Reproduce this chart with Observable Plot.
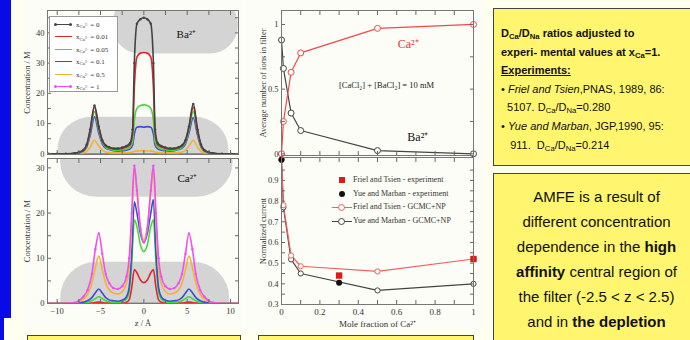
<!DOCTYPE html>
<html><head><meta charset="utf-8">
<script src="https://cdn.jsdelivr.net/npm/d3@7"></script>
<script src="https://cdn.jsdelivr.net/npm/@observablehq/plot@0.6"></script>
<style>
body{margin:0;width:690px;height:340px;overflow:hidden;background:#fffff0;position:relative;font-family:"Liberation Serif",serif}
.abs{position:absolute}
.panel{position:absolute;background:#fdfdf7}
.ybox{position:absolute;background:#fff56e;border:1px solid #444;box-sizing:border-box;font-family:"Liberation Sans",Arial,sans-serif;color:#111}
.leg{position:absolute;font-family:"Liberation Serif",serif;color:#333}
.row{position:absolute;left:0;white-space:nowrap;line-height:10px}
sub{font-size:70%;vertical-align:-0.25em;line-height:0}
sup{font-size:70%;vertical-align:0.45em;line-height:0}
</style></head><body>
<div class="abs" style="left:0;top:0;width:11px;height:318px;background:#0a0ae8"></div>
<div class="abs" style="left:0;top:318px;width:4px;height:22px;background:#0a0ae8"></div>
<div class="panel" style="left:24px;top:0;width:219px;height:330px"></div>
<div class="panel" style="left:245px;top:0;width:238px;height:330px"></div>
<div id="pA" class="abs" style="left:0;top:0"></div>
<div id="pB" class="abs" style="left:0;top:156px"></div>
<div id="pC" class="abs" style="left:245px;top:0"></div>
<div id="pD" class="abs" style="left:245px;top:156px"></div>

<div class="ybox" style="left:27px;top:335px;width:214px;height:20px"></div>
<div class="ybox" style="left:258px;top:335px;width:216px;height:20px"></div>

<div class="ybox" style="left:493px;top:8px;width:210px;height:158px;font-size:11px;line-height:18.6px;padding:15px 0 0 7px">
<div style="font-weight:bold">D<sub>Ca</sub>/D<sub>Na</sub> ratios adjusted to</div>
<div style="font-weight:bold">experi- mental values at x<sub>Ca</sub>=1.</div>
<div style="font-weight:bold;text-decoration:underline">Experiments:</div>
<div style="white-space:nowrap">• <i>Friel and Tsien</i>,PNAS, 1989, 86:</div>
<div style="white-space:nowrap">&nbsp;&nbsp;5107. D<sub>Ca</sub>/D<sub>Na</sub>=0.280</div>
<div style="white-space:nowrap">• <i>Yue and Marban</i>, JGP,1990, 95:</div>
<div style="white-space:nowrap">&nbsp;&nbsp;&nbsp;911.&nbsp; D<sub>Ca</sub>/D<sub>Na</sub>=0.214</div>
</div>

<div class="ybox" style="left:493px;top:173px;width:207px;height:190px;font-size:15px;line-height:25px;padding-top:10px;text-align:center">
<div>AMFE is a result of</div>
<div>different concentration</div>
<div>dependence in the <b>high</b></div>
<div><b>affinity</b> central region of</div>
<div>the filter (-2.5 &lt; z &lt; 2.5)</div>
<div>and in <b>the depletion</b></div>
</div>

<div id="legA" class="leg" style="left:49px;top:16px;width:69px;height:76px;background:#fff;border:1px solid #999;box-sizing:border-box;font-size:7px"></div>
<div id="legD" class="leg" style="left:328px;top:174px;width:140px;height:54px;font-size:8px"></div>

<script>
// ---------- Data ----------
const seriesLabels = ["0", "0.01", "0.05", "0.1", "0.5", "1"];
const seriesColors = ["#444444", "#e3262b", "#3ddc3d", "#3a4fd0", "#f2b233", "#f050f0"];

// Ba2+ concentration profiles (M) vs z (Å)
const zBa = [-11,-10,-9,-8,-7.5,-7,-6.6,-6.2,-5.7,-5.2,-4.8,-4.4,-4,-3.5,-3,-2.5,-2,-1.6,-1.3,-1.1,-0.8,-0.4,0,
             0.4,0.8,1.1,1.3,1.6,2,2.5,3,3.5,4,4.4,4.8,5.2,5.7,6.2,6.6,7,7.5,8,9,10,11];
const baX0   = [0,0,0,0.2,0.5,1.2,3,8,16,9,4.5,2.8,2.2,1.8,1.8,2.1,2.6,3.5,8,30,43,44.5,45,
                44.5,43,30,8,3.5,2.6,2.1,1.8,1.8,2.2,2.8,4.5,9,16.5,8,3,1.2,0.5,0.2,0,0,0];
const baX001 = [0,0,0,0.2,0.5,1.1,2.8,7.5,15.5,8.7,4.3,2.6,2,1.6,1.5,1.8,2.2,3,6.5,22,32,33.3,33.5,
                33.3,32,22,6.5,3,2.2,1.8,1.5,1.6,2,2.6,4.3,8.7,15.5,7.5,2.8,1.1,0.5,0.2,0,0,0];
const baX005 = [0,0,0,0.15,0.4,1,2.5,7,14,7.8,3.8,2.2,1.6,1.2,1.1,1.3,1.6,2.2,4,11,15,16,16.2,
                16,15,11,4,2.2,1.6,1.3,1.1,1.2,1.6,2.2,3.8,7.8,14,7,2.5,1,0.4,0.15,0,0,0];
const baX01  = [0,0,0,0.1,0.3,0.9,2.2,6,12.3,6.8,3.3,1.9,1.4,1,0.9,1,1.2,1.6,2.8,6.5,8.8,9,8.8,
                9,8.8,6.5,2.8,1.6,1.2,1,0.9,1,1.4,1.9,3.3,6.8,12,6,2.2,0.9,0.3,0.1,0,0,0];
const baX05  = [0,0,0,0,0.1,0.3,0.8,2.2,4.5,2.5,1.2,0.6,0.4,0.3,0.3,0.3,0.35,0.45,0.6,0.8,0.9,1,1,
                1,0.9,0.8,0.6,0.45,0.35,0.3,0.3,0.3,0.4,0.6,1.2,2.5,4.5,2.2,0.8,0.3,0.1,0,0,0,0];
const baX1   = [0,0,0,0,0,0,0,0,0,0,0,0,0,0,0,0,0,0,0,0,0,0,0,
                0,0,0,0,0,0,0,0,0,0,0,0,0,0,0,0,0,0,0,0,0,0];

// Ca2+ concentration profiles (M) vs z (Å)
const zCa = [-11,-10,-9,-8,-7.5,-7,-6.5,-6,-5.6,-5.2,-4.8,-4.4,-4,-3.5,-3,-2.5,-2,-1.7,-1.4,-1.1,-0.8,-0.4,0,
             0.4,0.8,1.1,1.4,1.7,2,2.5,3,3.5,4,4.4,4.8,5.2,5.6,6,6.5,7,7.5,8,9,10,11];
const caX0   = [0,0,0,0,0,0,0,0,0,0,0,0,0,0,0,0,0,0,0,0,0,0,0,
                0,0,0,0,0,0,0,0,0,0,0,0,0,0,0,0,0,0,0,0,0,0];
const caX001 = [0,0,0,0,0,0,0,0.1,0.2,0.3,0.2,0.1,0.1,0.1,0.1,0.1,0.3,0.8,3.5,7.5,6.8,5.2,4.6,
                5.2,6.8,7.5,3.5,0.8,0.3,0.1,0.1,0.1,0.1,0.1,0.2,0.3,0.2,0.1,0,0,0,0,0,0,0];
const caX005 = [0,0,0,0,0,0.1,0.3,0.6,1.1,1.5,1.1,0.6,0.4,0.3,0.25,0.4,1,2.5,9,18.5,17,13,11.5,
                13,17,18.5,9,2.5,1,0.4,0.25,0.3,0.4,0.6,1.1,1.5,1.1,0.6,0.3,0.1,0,0,0,0,0];
const caX01  = [0,0,0,0,0.1,0.3,0.6,1.3,2.4,3.2,2.3,1.3,0.8,0.6,0.5,0.7,1.5,3.5,11,22.5,20,15.5,13.5,
                15.5,20,23,11,3.5,1.5,0.7,0.5,0.6,0.8,1.3,2.3,3.2,2.4,1.3,0.6,0.3,0.1,0,0,0,0];
const caX05  = [0,0,0,0.1,0.4,1,2,4.5,8,10.5,7.5,4.5,3,2.3,2.1,2.6,4.5,8,18,30,25,17,14,
                17,25,30,18,8,4.5,2.6,2.1,2.3,3,4.5,7.5,10.5,8,4.5,2,1,0.4,0.1,0,0,0];
const caX1   = [0,0,0,0.2,0.6,1.5,3,6.5,12,15.5,11,6.5,4.5,3.4,3.2,3.8,6,10,20,30.5,25,16.5,13.5,
                16.5,25,30.5,20,10,6,3.8,3.2,3.4,4.5,6.5,11,15.5,12,6.5,3,1.5,0.6,0.2,0,0,0];

// shaded regions (data units)
const baShadeTop = {x1: -3.6, x2: 10.9, y1: 33, y2: 52};
const baShadeBot = {x1: -9.9, x2: 9.8, y1: -9, y2: 12.1};
const caShadeTop = {x1: -9.6, x2: 10.3, y1: 23.5, y2: 39};
const caShadeBot = {x1: -9.6, x2: 9.9, y1: -7, y2: 9.1};

// Average number of ions in filter vs mole fraction of Ca2+
const moleFrac = [0, 0.01, 0.05, 0.1, 0.5, 1];
const avgCa = [0, 0.25, 0.63, 0.78, 0.97, 1.0];
const avgBa = [0.88, 0.66, 0.315, 0.18, 0.025, 0.0];

// Normalized current
const currFriel = [1.0, 0.78, 0.537, 0.485, 0.46, 0.52];
const currYue   = [1.0, 0.77, 0.518, 0.45, 0.368, 0.40];
const expFrielX = [0.3, 1];
const expFrielY = [0.44, 0.52];
const expYueX = [0, 0.3];
const expYueY = [1.0, 0.405];

// ---------- helpers ----------
const baSeries = [baX0, baX001, baX005, baX01, baX05, baX1];
const caSeries = [caX0, caX001, caX005, caX01, caX05, caX1];
const tidy = (zs, series) => {
  const rows = [];
  series.forEach((arr, i) => arr.forEach((v, j) => rows.push({z: zs[j], c: v, s: seriesLabels[i]})));
  return rows;
};
const baRows = tidy(zBa, baSeries);
const caRows = tidy(zCa, caSeries);

const style = {fontFamily: "Liberation Serif, serif", fontSize: "8.5px", color: "#333", background: "transparent", overflow: "visible"};
const AX = "#666";
function frameAxes(xt, yt) {
  return [
    Plot.axisX({anchor: "bottom", ticks: xt, tickSize: -4, tickFormat: () => "", stroke: AX, label: null}),
    Plot.axisX({anchor: "top", ticks: xt, tickSize: -4, tickFormat: () => "", stroke: AX, label: null}),
    Plot.axisY({anchor: "left", ticks: yt, tickSize: -4, tickFormat: () => "", stroke: AX, label: null}),
    Plot.axisY({anchor: "right", ticks: yt, tickSize: -4, tickFormat: () => "", stroke: AX, label: null}),
    Plot.frame({stroke: "#777"})
  ];
}
const colorScale = {domain: seriesLabels, range: seriesColors};

// ---------- Panel A: Ba2+ ----------
const pA = Plot.plot({
  width: 245, height: 156, marginLeft: 47, marginRight: 7, marginTop: 10, marginBottom: 2,
  style, color: colorScale,
  x: {domain: [-11.12, 10.92]}, y: {domain: [-0.23, 47.4]},
  marks: [
    Plot.rect([baShadeTop], {x1: "x1", x2: "x2", y1: "y1", y2: "y2", fill: "#d4d4d4", rx: 28, clip: true}),
    Plot.rect([baShadeBot], {x1: "x1", x2: "x2", y1: "y1", y2: "y2", fill: "#d4d4d4", rx: 34, clip: true}),
    ...seriesLabels.slice().reverse().map(s =>
      Plot.line(baRows.filter(d => d.s === s), {x: "z", y: "c", stroke: "s", strokeWidth: 1.6, curve: "monotone-x", clip: true})),
    Plot.dot(baRows.filter(d => d.s === "0"), {x: "z", y: "c", r: 1.2, fill: "#444", clip: true}),
    Plot.text(["Ba²⁺"], {x: 4.9, y: 39.5, text: d => d, fontSize: 11, fill: "#111", fontFamily: "Liberation Serif"}),
    ...frameAxes(d3.range(-10, 11, 2.5), d3.range(0, 46, 5)),
    Plot.axisY({anchor: "left", ticks: [0, 10, 20, 30, 40], tickSize: 0, tickPadding: 3, label: "Concentration / M", labelAnchor: "center", labelArrow: "none", labelOffset: 24})
  ]
});
document.getElementById("pA").append(pA);

// ---------- Panel B: Ca2+ ----------
const pB = Plot.plot({
  width: 245, height: 180, marginLeft: 47, marginRight: 7, marginTop: 2, marginBottom: 33,
  style, color: colorScale,
  x: {domain: [-11.12, 10.92]}, y: {domain: [0, 32.08]},
  marks: [
    Plot.rect([caShadeTop], {x1: "x1", x2: "x2", y1: "y1", y2: "y2", fill: "#d4d4d4", rx: 36, clip: true}),
    Plot.rect([caShadeBot], {x1: "x1", x2: "x2", y1: "y1", y2: "y2", fill: "#d4d4d4", rx: 36, clip: true}),
    ...seriesLabels.map(s =>
      Plot.line(caRows.filter(d => d.s === s), {x: "z", y: "c", stroke: "s", strokeWidth: 1.6, curve: "monotone-x", clip: true})),
    Plot.dot(caRows.filter(d => d.s === "1"), {x: "z", y: "c", r: 1.2, fill: "#f050f0", clip: true}),
    Plot.text(["Ca²⁺"], {x: 5.0, y: 27.6, text: d => d, fontSize: 11, fill: "#111", fontFamily: "Liberation Serif"}),
    ...frameAxes(d3.range(-10, 11, 2.5), d3.range(0, 32, 5)),
    Plot.axisY({anchor: "left", ticks: [0, 10, 20, 30], tickSize: 0, tickPadding: 3, label: "Concentration / M", labelAnchor: "center", labelArrow: "none", labelOffset: 24}),
    Plot.axisX({anchor: "bottom", ticks: [-10, -5, 0, 5, 10], tickSize: 0, tickPadding: 4, label: "z / Å", labelAnchor: "center", labelArrow: "none", labelOffset: 22, fontSize: 8.5})
  ]
});
document.getElementById("pB").append(pB);

// ---------- Panel C: average number of ions ----------
const avgRowsCa = moleFrac.map((x, i) => ({x, y: avgCa[i]}));
const avgRowsBa = moleFrac.map((x, i) => ({x, y: avgBa[i]}));
const pC = Plot.plot({
  width: 235, height: 156, marginLeft: 36, marginRight: 7, marginTop: 10, marginBottom: 1,
  style,
  x: {domain: [0, 1]}, y: {domain: [-0.013, 1.108]},
  marks: [
    Plot.line(avgRowsBa, {x: "x", y: "y", stroke: "#444", strokeWidth: 1.2}),
    Plot.dot(avgRowsBa, {x: "x", y: "y", r: 3, stroke: "#444", fill: "#fdfdf7", strokeWidth: 1}),
    Plot.line(avgRowsCa, {x: "x", y: "y", stroke: "#f04848", strokeWidth: 1.2}),
    Plot.dot(avgRowsCa, {x: "x", y: "y", r: 3, stroke: "#f04848", fill: "#fdfdf7", strokeWidth: 1}),
    Plot.text(["[CaCl₂] + [BaCl₂] = 10 mM"], {x: 0.547, y: 0.53, text: d => d, fontSize: 8.5, fill: "#222", fontFamily: "Liberation Serif"}),
    Plot.text(["Ca²⁺"], {x: 0.66, y: 0.85, text: d => d, fontSize: 12, fill: "#e83030", fontFamily: "Liberation Serif"}),
    Plot.text(["Ba²⁺"], {x: 0.71, y: 0.13, text: d => d, fontSize: 12, fill: "#111", fontFamily: "Liberation Serif"}),
    ...frameAxes(d3.range(0, 1.01, 0.1), d3.range(0, 1.01, 0.25)),
    Plot.axisY({anchor: "left", ticks: [0, 0.5, 1], tickFormat: d => String(d), tickSize: 0, tickPadding: 3, label: "Average number of ions in filter", labelAnchor: "center", labelArrow: "none", labelOffset: 22})
  ]
});
document.getElementById("pC").append(pC);

// ---------- Panel D: normalized current ----------
const rowsFriel = moleFrac.map((x, i) => ({x, y: currFriel[i]}));
const rowsYue = moleFrac.map((x, i) => ({x, y: currYue[i]}));
const expF = expFrielX.map((x, i) => ({x, y: expFrielY[i]}));
const expY = expYueX.map((x, i) => ({x, y: expYueY[i]}));
const pD = Plot.plot({
  width: 235, height: 180, marginLeft: 36, marginRight: 7, marginTop: 1, marginBottom: 32,
  style,
  x: {domain: [0, 1]}, y: {domain: [0.3, 1.011]},
  marks: [
    Plot.line(rowsYue, {x: "x", y: "y", stroke: "#444", strokeWidth: 1.2}),
    Plot.line(rowsFriel, {x: "x", y: "y", stroke: "#f06060", strokeWidth: 1.2}),
    Plot.dot(rowsYue, {x: "x", y: "y", r: 2.6, stroke: "#444", fill: "#fdfdf7", strokeWidth: 1}),
    Plot.dot(rowsFriel, {x: "x", y: "y", r: 2.6, stroke: "#f06060", fill: "#fdfdf7", strokeWidth: 1}),
    Plot.dot(expF, {x: "x", y: "y", symbol: "square", r: 3.6, fill: "#e01818"}),
    Plot.dot(expY, {x: "x", y: "y", r: 3, fill: "#111"}),
    ...frameAxes(d3.range(0, 1.01, 0.1), d3.range(0.3, 1.0, 0.05)),
    Plot.axisY({anchor: "left", ticks: [0.3, 0.4, 0.5, 0.6, 0.7, 0.8, 0.9], tickFormat: d => String(+d.toFixed(1)), tickSize: 0, tickPadding: 3, label: "Normalized current", labelAnchor: "center", labelArrow: "none", labelOffset: 22}),
    Plot.axisX({anchor: "bottom", ticks: [0, 0.2, 0.4, 0.6, 0.8, 1], tickFormat: d => String(+d.toFixed(1)), tickSize: 0, tickPadding: 4, label: "Mole fraction of Ca²⁺", labelAnchor: "center", labelArrow: "none", labelOffset: 22, fontSize: 9})
  ]
});
document.getElementById("pD").append(pD);

// ---------- Legends ----------
const legA = document.getElementById("legA");
seriesLabels.forEach((s, i) => {
  const top = 3 + i * 12.4;
  const c = seriesColors[i];
  const marker = (i === 0 || i === 5) ? `<span style="position:absolute;left:4px;top:3px;width:3px;height:3px;border-radius:50%;background:${c}"></span><span style="position:absolute;left:19px;top:3px;width:3px;height:3px;border-radius:50%;background:${c}"></span>` : "";
  legA.insertAdjacentHTML("beforeend",
    `<div class="row" style="top:${top}px;height:10px;width:66px">
      <span style="position:absolute;left:5px;top:4px;width:17px;border-top:1.5px solid ${c}"></span>${marker}
      <span style="position:absolute;left:26px;top:0">x<sub>Ca<sup>2+</sup></sub> = ${s}</span></div>`);
});
const legD = document.getElementById("legD");
const legDItems = [
  {t: "Friel and Tsien - experiment", sym: `<span style="position:absolute;left:11px;top:2px;width:6px;height:6px;background:#e01818"></span>`},
  {t: "Yue and Marban - experiment", sym: `<span style="position:absolute;left:11px;top:2px;width:6px;height:6px;border-radius:50%;background:#111"></span>`},
  {t: "Friel and Tsien - GCMC+NP", sym: `<span style="position:absolute;left:4px;top:5px;width:20px;border-top:1.2px solid #f06060"></span><span style="position:absolute;left:10px;top:2px;width:5px;height:5px;border-radius:50%;border:1px solid #f06060;background:#fdfdf7"></span>`},
  {t: "Yue and Marban - GCMC+NP", sym: `<span style="position:absolute;left:4px;top:5px;width:20px;border-top:1.2px solid #444"></span><span style="position:absolute;left:10px;top:2px;width:5px;height:5px;border-radius:50%;border:1px solid #444;background:#fdfdf7"></span>`}
];
legDItems.forEach((it, i) => {
  legD.insertAdjacentHTML("beforeend",
    `<div class="row" style="top:${1 + i * 13.7}px;height:10px;width:140px">${it.sym}<span style="position:absolute;left:25px;top:0">${it.t}</span></div>`);
});
</script>
</body></html>
